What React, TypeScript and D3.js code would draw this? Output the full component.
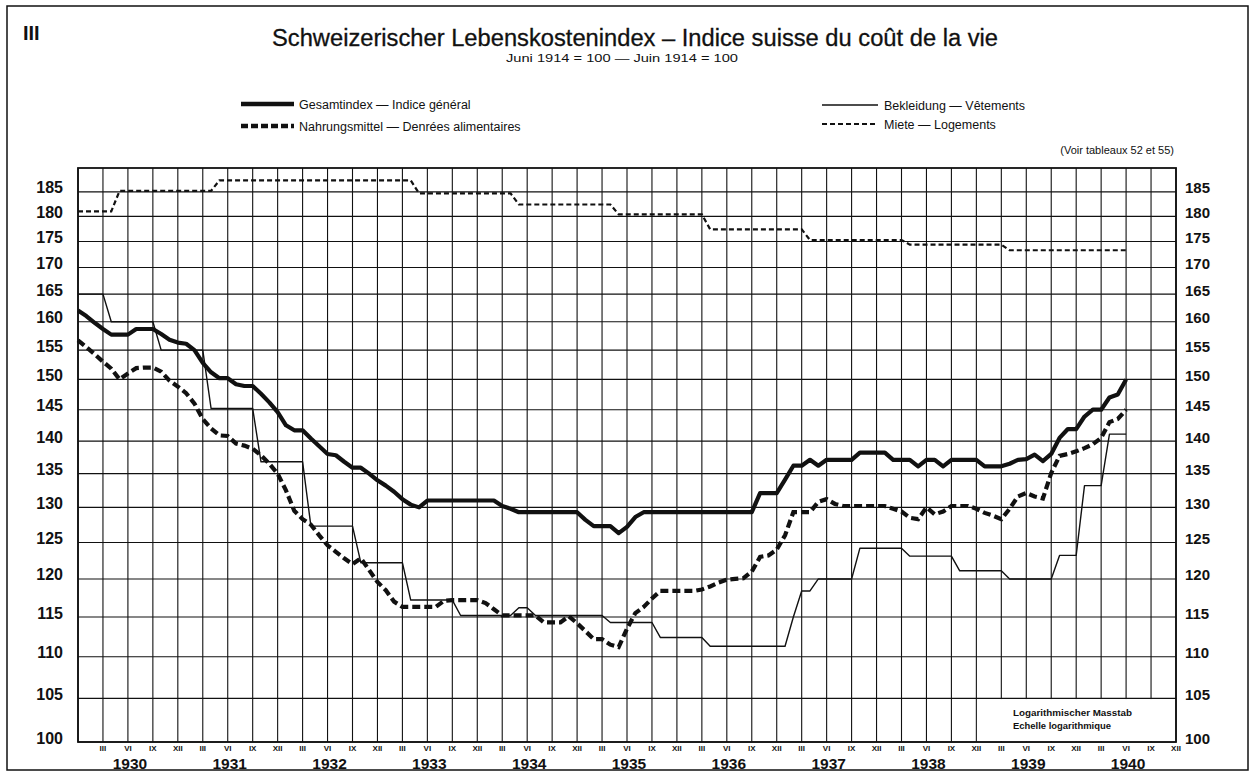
import React from 'react';
import * as d3 from 'd3';

// monthly values, index 0 = December 1929, last = June 1940
const gesamtindex = [
  162, 161, 159.8, 158.7, 157.7, 157.7, 157.7, 158.7, 158.7, 158.7, 157.8, 156.8,
  156.3, 156.1, 155, 152.8, 151.2, 150.2, 150.2, 149.2, 148.9, 148.9, 147.6, 146.2,
  144.6, 142.5, 141.7, 141.7, 140.4, 139.2, 138, 137.8, 136.8, 135.9, 135.9, 135,
  134, 133.2, 132.3, 131.2, 130.4, 130, 131, 131, 131, 131, 131, 131,
  131, 131, 131, 130.2, 129.8, 129.3, 129.3, 129.3, 129.3, 129.3, 129.3, 129.3,
  129.3, 128.2, 127.3, 127.3, 127.3, 126.3, 127.2, 128.6, 129.3, 129.3, 129.3, 129.3,
  129.3, 129.3, 129.3, 129.3, 129.3, 129.3, 129.3, 129.3, 129.3, 129.3, 132.1, 132.1,
  132.1, 134.1, 136.2, 136.2, 137.1, 136.2, 137.1, 137.1, 137.1, 137.1, 138.2, 138.2,
  138.2, 138.2, 137.1, 137.1, 137.1, 136.1, 137.1, 137.1, 136.1, 137.1, 137.1, 137.1,
  137.1, 136.1, 136.1, 136.1, 136.5, 137.1, 137.2, 137.9, 136.9, 138, 140.5, 141.9,
  141.9, 143.9, 145, 145, 147, 147.5, 150,
];

const nahrungsmittel = [
  156.7, 155.5, 154.3, 153, 151.8, 150, 151, 151.9, 152, 152, 151.3, 149.8,
  148.8, 147.7, 146, 143.5, 142, 140.9, 140.8, 139.6, 139.3, 138.8, 137.8, 136.5,
  135, 132.5, 129.5, 128.3, 127.5, 126, 124.6, 123.7, 122.8, 122, 122.8, 121.2,
  119.6, 118.5, 117, 116.3, 116.3, 116.3, 116.3, 116.3, 117.1, 117.2, 117.2, 117.2,
  117.2, 116.8, 116, 115.2, 115.2, 115.2, 115.2, 115.2, 114.3, 114.3, 114.3, 115.1,
  114.2, 113.2, 112.2, 112.2, 111.5, 111.2, 113.5, 115.5, 116.3, 117.4, 118.4, 118.4,
  118.4, 118.4, 118.4, 118.6, 119, 119.5, 119.9, 120, 120.1, 121, 123, 123.2,
  124, 126, 129.3, 129.3, 129.3, 130.8, 131.2, 130.5, 130.2, 130.2, 130.2, 130.2,
  130.2, 130.2, 129.8, 129.4, 128.5, 128.3, 130, 129, 129.4, 130.2, 130.2, 130.2,
  129.8, 129.2, 128.8, 128.3, 129.8, 131.6, 132.1, 131.6, 131.3, 135.1, 137.7, 138,
  138.4, 138.9, 139.5, 140.5, 143, 143.5, 145,
];

const bekleidung = [
  165, 165, 165, 165, 160, 160, 160, 160, 160, 160, 155, 155,
  155, 155, 155, 155, 145.2, 145.2, 145.2, 145.2, 145.2, 145.2, 136.8, 136.8,
  136.8, 136.8, 136.8, 136.8, 127.3, 127.3, 127.3, 127.3, 127.3, 127.3, 122.2, 122.2,
  122.2, 122.2, 122.2, 122.2, 117.2, 117.2, 117.2, 117.2, 117.2, 117.2, 115.2, 115.2,
  115.2, 115.2, 115.2, 115.2, 115.2, 116.2, 116.2, 115.2, 115.2, 115.2, 115.2, 115.2,
  115.2, 115.2, 115.2, 115.2, 114.3, 114.3, 114.3, 114.3, 114.3, 114.3, 112.4, 112.4,
  112.4, 112.4, 112.4, 112.4, 111.3, 111.3, 111.3, 111.3, 111.3, 111.3, 111.3, 111.3,
  111.3, 111.3, 115, 118.4, 118.4, 120, 120, 120, 120, 120, 124.2, 124.2,
  124.2, 124.2, 124.2, 124.2, 123.1, 123.1, 123.1, 123.1, 123.1, 123.1, 121.1, 121.1,
  121.1, 121.1, 121.1, 121.1, 120, 120, 120, 120, 120, 120, 123.2, 123.2,
  123.2, 133.2, 133.2, 133.2, 141.1, 141.1, 141.1,
];

const miete = [
  181, 181, 181, 181, 181, 185.2, 185.2, 185.2, 185.2, 185.2, 185.2, 185.2,
  185.2, 185.2, 185.2, 185.2, 185.2, 187.4, 187.4, 187.4, 187.4, 187.4, 187.4, 187.4,
  187.4, 187.4, 187.4, 187.4, 187.4, 187.4, 187.4, 187.4, 187.4, 187.4, 187.4, 187.4,
  187.4, 187.4, 187.4, 187.4, 187.4, 184.7, 184.7, 184.7, 184.7, 184.7, 184.7, 184.7,
  184.7, 184.7, 184.7, 184.7, 184.7, 182.4, 182.4, 182.4, 182.4, 182.4, 182.4, 182.4,
  182.4, 182.4, 182.4, 182.4, 182.4, 180.4, 180.4, 180.4, 180.4, 180.4, 180.4, 180.4,
  180.4, 180.4, 180.4, 180.4, 177.4, 177.4, 177.4, 177.4, 177.4, 177.4, 177.4, 177.4,
  177.4, 177.4, 177.4, 177.4, 175.3, 175.3, 175.3, 175.3, 175.3, 175.3, 175.3, 175.3,
  175.3, 175.3, 175.3, 175.3, 174.4, 174.4, 174.4, 174.4, 174.4, 174.4, 174.4, 174.4,
  174.4, 174.4, 174.4, 174.4, 173.3, 173.3, 173.3, 173.3, 173.3, 173.3, 173.3, 173.3,
  173.3, 173.3, 173.3, 173.3, 173.3, 173.3, 173.3,
];

const years = [1930, 1931, 1932, 1933, 1934, 1935, 1936, 1937, 1938, 1939, 1940];
const quarterLabels = ['III', 'VI', 'IX', 'XII'];
const yTicks = [100, 105, 110, 115, 120, 125, 130, 135, 140, 145, 150, 155, 160, 165, 170, 175, 180, 185];

const FONT = '"Liberation Sans", Arial, sans-serif';
const INK = '#111';

export default function App() {
  const left = 78, right = 1176, top = 168, bottom = 742;
  const x = d3.scaleLinear().domain([0, 132]).range([left, right]);
  const y = d3.scaleLog().domain([100, 190]).range([bottom, top]);
  const line = d3.line<number>().x((_, i) => x(i)).y(d => y(d));

  const quarters = d3.range(0, 133, 3);
  const boxLeft = x(108); // Dec 1938

  return (
    <svg width={1256} height={772} style={{ position: 'absolute', left: 0, top: 0, background: '#fff' }}
      fontFamily={FONT}>
      <rect x={0} y={0} width={1256} height={772} fill="#fff" />
      <rect x={7} y={6} width={1241} height={764} fill="none" stroke={INK} strokeWidth={1.5} />

      <text x={23} y={40} fontSize={20} fontWeight="bold" fill={INK}>III</text>
      <text x={635} y={46} fontSize={23} textAnchor="middle" fill={INK} stroke={INK} strokeWidth={0.3}
        textLength={726} lengthAdjust="spacingAndGlyphs">
        Schweizerischer Lebenskostenindex – Indice suisse du coût de la vie
      </text>
      <text x={622} y={62} fontSize={11.5} textAnchor="middle" fill={INK} textLength={232} lengthAdjust="spacingAndGlyphs">
        Juni 1914 = 100  —  Juin 1914 = 100
      </text>

      {/* legend */}
      <line x1={241} x2={294} y1={104} y2={104} stroke={INK} strokeWidth={4.5} />
      <text x={299} y={108.5} fontSize={12.5} fill={INK}>Gesamtindex — Indice général</text>
      <line x1={241} x2={294} y1={126} y2={126} stroke={INK} strokeWidth={4.5} strokeDasharray="7 3" />
      <text x={299} y={130.5} fontSize={12.5} fill={INK}>Nahrungsmittel — Denrées alimentaires</text>
      <line x1={822} x2={878} y1={105} y2={105} stroke={INK} strokeWidth={1.4} />
      <text x={884} y={109.5} fontSize={12.5} fill={INK}>Bekleidung  — Vêtements</text>
      <line x1={822} x2={878} y1={124} y2={124} stroke={INK} strokeWidth={2} strokeDasharray="5 3" />
      <text x={884} y={128.5} fontSize={12.5} fill={INK}>Miete — Logements</text>
      <text x={1174} y={154} fontSize={11} textAnchor="end" fill={INK}>(Voir tableaux  52 et 55)</text>

      {/* grid */}
      {quarters.map(q => (
        <line key={'v' + q} x1={x(q)} x2={x(q)} y1={top} y2={bottom} stroke={INK} strokeWidth={1.1} />
      ))}
      {yTicks.map(t => (
        <line key={'h' + t} x1={left} x2={right} y1={y(t)} y2={y(t)} stroke={INK} strokeWidth={1.1} />
      ))}
      <rect x={boxLeft + 0.6} y={y(105) + 0.7} width={right - boxLeft - 1.5} height={bottom - y(105) - 1.4} fill="#fff" />
      <text x={1013} y={716} fontSize={9} fontWeight="bold" fill={INK} textLength={119} lengthAdjust="spacingAndGlyphs">Logarithmischer Masstab</text>
      <text x={1013} y={729} fontSize={9} fontWeight="bold" fill={INK} textLength={98} lengthAdjust="spacingAndGlyphs">Echelle logarithmique</text>
      <rect x={left} y={top} width={right - left} height={bottom - top} fill="none" stroke={INK} strokeWidth={1.8} />

      {/* axis labels */}
      {yTicks.map(t => (
        <g key={'yl' + t}>
          <text x={63} y={y(t) + 1.5} fontSize={16} fontWeight="bold" textAnchor="end" fill={INK}>{t}</text>
          <text x={1185} y={y(t) + 1.5} fontSize={15} fontWeight="bold" fill={INK}>{t}</text>
        </g>
      ))}
      {years.map((yr, k) => (
        <g key={'yr' + yr}>
          {quarterLabels.map((ql, j) => (
            <text key={ql} x={x(k * 12 + (j + 1) * 3)} y={751} fontSize={8} fontWeight="bold"
              textAnchor="middle" fill={INK}>{ql}</text>
          ))}
          <text x={x(k * 12 + 6) + 2} y={769} fontSize={15.5} fontWeight="bold" textAnchor="middle" fill={INK}>{yr}</text>
        </g>
      ))}

      {/* series */}
      <path d={line(miete) || ''} fill="none" stroke={INK} strokeWidth={2.2} strokeDasharray="5 3" />
      <path d={line(bekleidung) || ''} fill="none" stroke={INK} strokeWidth={1.4} strokeLinejoin="round" />
      <path d={line(nahrungsmittel) || ''} fill="none" stroke={INK} strokeWidth={4.2} strokeDasharray="8 4" />
      <path d={line(gesamtindex) || ''} fill="none" stroke={INK} strokeWidth={4.2} strokeLinejoin="round" />
    </svg>
  );
}
